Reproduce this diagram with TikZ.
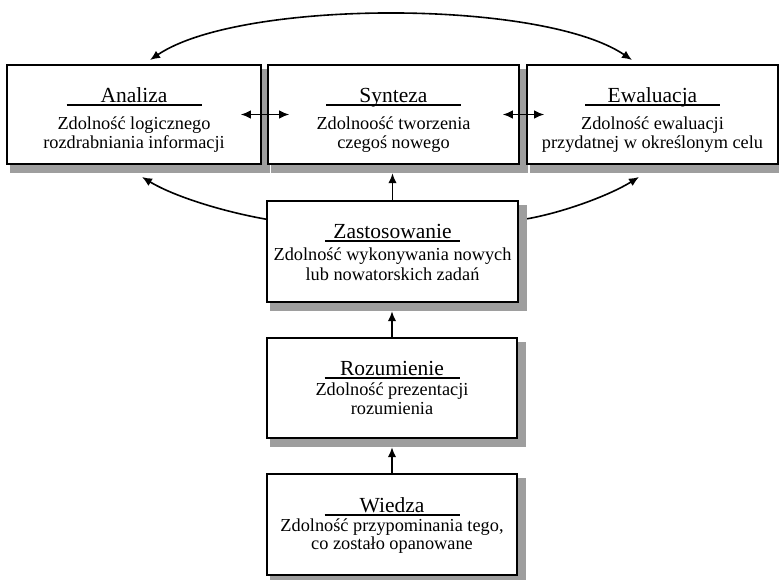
\documentclass[tikz,border=0pt]{standalone}
\usepackage{fontspec}
\setmainfont{Liberation Serif}
\usetikzlibrary{arrows.meta}
\tikzset{
  x=1pt, y=-1pt,
  box/.style={draw=black, line width=1.6pt, fill=white, inner sep=0pt, rectangle},
  shadebox/.style={fill=black!38, draw=none, inner sep=0pt, rectangle},
  titletext/.style={font=\fontsize{21.5}{24}\selectfont, inner sep=0pt},
  bodytext/.style={font=\fontsize{18.3}{20}\selectfont, inner sep=0pt},
  underl/.style={line width=1.1pt},
  arr/.style={line width=1.6pt, -{Latex[length=10pt,width=8.5pt]}},
  darr/.style={line width=1.6pt, {Latex[length=10pt,width=8.5pt]}-{Latex[length=10pt,width=8.5pt]}}
}
% offsets (from box top) of title, line 1, line 2 baselines
\def\ot{37}\def\oa{63}\def\ob{82}
\newcommand\blok[8]{%
  \pgfmathsetmacro\bw{#4-#2}\pgfmathsetmacro\bh{#5-#3}%
  \pgfmathsetmacro\bx{(#2+#4)/2}\pgfmathsetmacro\by{(#3+#5)/2}%
  \pgfmathsetmacro\sw{\bw+6}\pgfmathsetmacro\sh{\bh+5}%
  \node[shadebox, minimum width=\sw pt, minimum height=\sh pt] (#1-sh) at (\bx+6,\by+6.5) {};
  \node[box, minimum width=\bw pt, minimum height=\bh pt] (#1) at (\bx,\by) {};
  \node[titletext, anchor=base] (#1-t) at (\bx,#3+\ot) {#6};
  \draw[underl] (\bx-67.5,#3+\ot+3) -- (\bx+67.5,#3+\ot+3);
  \node[bodytext, anchor=base] (#1-a) at (\bx,#3+\oa) {#7};
  \node[bodytext, anchor=base] (#1-b) at (\bx,#3+\ob) {#8};
}
\begin{document}
\begin{tikzpicture}
\useasboundingbox (0,0) rectangle (779,579);
\fill[white] (0,0) rectangle (779,579);
\begin{scope}
\clip (0,0) rectangle (779,579);
\def\ot{37}\def\oa{64}\def\ob{83}
\blok{anal}{7}{65}{261}{164}{Analiza}{Zdolność logicznego}{rozdrabniania informacji}
\blok{synt}{268}{65}{519}{164}{Synteza}{Zdolnoość tworzenia}{czegoś nowego}
\blok{eval}{527}{65}{778}{164}{Ewaluacja}{Zdolność ewaluacji}{przydatnej w określonym celu}
\def\ot{37}\def\oa{59}\def\ob{79}
\blok{zast}{267}{201}{518}{302}{Zastosowanie}{Zdolność wykonywania nowych}{lub nowatorskich zadań}
\def\ot{37}\def\oa{57}\def\ob{76}
\blok{rozu}{267}{338}{517}{438}{Rozumienie}{Zdolność prezentacji}{rozumienia}
\def\ot{38}\def\oa{57}\def\ob{75}
\blok{wied}{267}{474}{517}{575}{Wiedza}{Zdolność przypominania tego,}{co zostało opanowane}
\end{scope}
% top arc
\coordinate (arcL) at (150,60);
\coordinate (arcR) at (632,60);
\draw[darr] (arcL) .. controls (240,-1) and (542,-1) .. (arcR);
% horizontal double arrows
\draw[darr] ([xshift=-21pt]anal.east) -- ([xshift=22pt]synt.west);
\draw[darr] ([xshift=-17pt]synt.east) -- ([xshift=18pt]eval.west);
% vertical arrows
\draw[arr] (zast.north) -- (zast.north |- synt-sh.south);
\draw[arr] (rozu.north) -- (rozu.north |- zast-sh.south);
\draw[arr] (wied.north) -- (wied.north |- rozu-sh.south);
% side curves
\coordinate (zl) at (142,177);
\coordinate (zr) at (639,177);
\draw[arr] ([yshift=-19pt]zast.north west) .. controls (225,212) and (175,197) .. (zl);
\draw[arr] ([yshift=-14pt]zast-sh.north east) .. controls (565,212) and (610,195) .. (zr);
\end{tikzpicture}
\end{document}
